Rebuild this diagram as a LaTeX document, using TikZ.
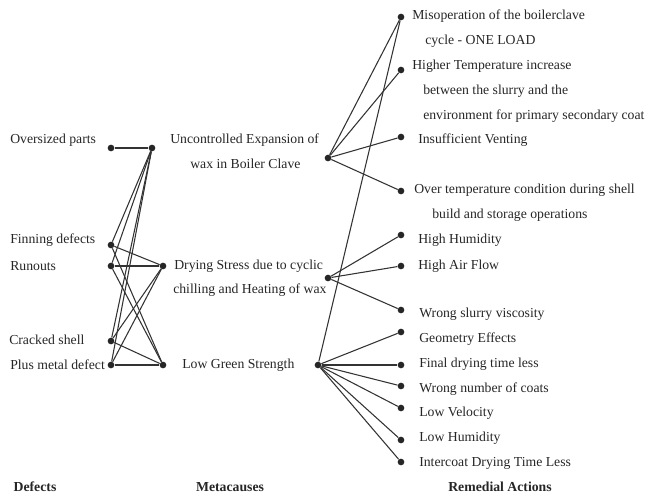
\documentclass[tikz,border=0pt]{standalone}
\usepackage{fontspec}
\setmainfont{Liberation Serif}

\begin{document}
\begin{tikzpicture}[x=0.75pt,y=-0.75pt,
        dot/.style={fill=black!85,circle,inner sep=0pt,minimum size=5pt},
        txt/.style={anchor=west,inner sep=0pt,text=black!85,font=\fontsize{10.3}{12}\selectfont},
        head/.style={anchor=center,inner sep=0pt,text=black!85,font=\fontsize{10.3}{12}\selectfont\bfseries},
        link/.style={line width=0.8pt,black!80}]
        \useasboundingbox (0,0) rectangle (649,493);

        % Defects
        \node[dot] (Def1) at (111,148) {};
        \node[dot] (Def2) at (111,245) {};
        \node[dot] (Def3) at (111,266) {};
        \node[dot] (Def4) at (111,341) {};
        \node[dot] (Def5) at (111,365) {};
        \node[txt] (Def1T) at (10,140) {Oversized parts};
        \node[txt] (Def2T) at (10,240) {Finning defects};
        \node[txt] (Def3T) at (10,266) {Runouts};
        \node[txt] (Def4T) at (9,340) {Cracked shell};
        \node[txt] (Def5T) at (10,365) {Plus metal defect};

        % Metacauses
        \node[dot] (Meta1L) at (152,148) {};
        \node[dot] (Meta2L) at (163,266) {};
        \node[dot] (Meta3L) at (163,365) {};
        \node[dot] (Meta1R) at (328,158) {};
        \node[dot] (Meta2R) at (328,278) {};
        \node[dot] (Meta3R) at (318,365) {};
        \node[txt] (Meta1T) at (170,140) {Uncontrolled Expansion of};
        \node[txt] (Meta1U) at (190,164) {wax in Boiler Clave};
        \node[txt] (Meta2T) at (174,266) {Drying Stress due to cyclic};
        \node[txt] (Meta2U) at (173,290) {chilling and Heating of wax};
        \node[txt] (Meta3T) at (182,365) {Low Green Strength};

        % Remedial actions
        \node[dot] (Act1) at (401,17) {};
        \node[dot] (Act2) at (401,70) {};
        \node[dot] (Act3) at (401,137) {};
        \node[dot] (Act4) at (401,191) {};
        \node[dot] (Act5) at (401,235) {};
        \node[dot] (Act6) at (401,266) {};
        \node[dot] (Act7) at (401,310) {};
        \node[dot] (Act8) at (401,332) {};
        \node[dot] (Act9) at (401,365) {};
        \node[dot] (Act10) at (401,386) {};
        \node[dot] (Act11) at (401,408) {};
        \node[dot] (Act12) at (401,440) {};
        \node[dot] (Act13) at (401,462) {};
        \node[txt] (Act1T) at (412,16) {Misoperation of the boilerclave};
        \node[txt] (Act1U) at (425,41) {cycle - ONE LOAD};
        \node[txt] (Act2T) at (412,66) {Higher Temperature increase};
        \node[txt] (Act2U) at (423,91) {between the slurry and the};
        \node[txt] (Act2V) at (423,116) {environment for primary secondary coat};
        \node[txt] (Act3T) at (418,140) {Insufficient Venting};
        \node[txt] (Act4T) at (414,190) {Over temperature condition during shell};
        \node[txt] (Act4U) at (432,215) {build and storage operations};
        \node[txt] (Act5T) at (418,240) {High Humidity};
        \node[txt] (Act6T) at (418,266) {High Air Flow};
        \node[txt] (Act7T) at (419,314) {Wrong slurry viscosity};
        \node[txt] (Act8T) at (419,339) {Geometry Effects};
        \node[txt] (Act9T) at (419,364) {Final drying time less};
        \node[txt] (Act10T) at (419,389) {Wrong number of coats};
        \node[txt] (Act11T) at (419,413) {Low Velocity};
        \node[txt] (Act12T) at (419,438) {Low Humidity};
        \node[txt] (Act13T) at (419,463) {Intercoat Drying Time Less};

        % Column heads
        \node[head] (HeadDef) at (35,487) {Defects};
        \node[head] (HeadMeta) at (230,487) {Metacauses};
        \node[head] (HeadAct) at (500,487) {Remedial Actions};

        % Defects to metacauses
        \draw[link] (Def1) -- (Meta1L);
        \draw[link] (Def2) -- (Meta1L);
        \draw[link] (Def3) -- (Meta1L);
        \draw[link] (Def4) -- (Meta1L);
        \draw[link] (Def5) -- (Meta1L);
        \draw[link] (Def2) -- (Meta2L);
        \draw[link] (Def3) -- (Meta2L);
        \draw[link] (Def4) -- (Meta2L);
        \draw[link] (Def5) -- (Meta2L);
        \draw[link] (Def2) -- (Meta3L);
        \draw[link] (Def3) -- (Meta3L);
        \draw[link] (Def4) -- (Meta3L);
        \draw[link] (Def5) -- (Meta3L);

        % Metacauses to remedial actions
        \draw[link] (Meta1R) -- (Act1);
        \draw[link] (Meta1R) -- (Act2);
        \draw[link] (Meta1R) -- (Act3);
        \draw[link] (Meta1R) -- (Act4);
        \draw[link] (Meta2R) -- (Act5);
        \draw[link] (Meta2R) -- (Act6);
        \draw[link] (Meta2R) -- (Act7);
        \draw[link] (Meta3R) -- (Act1);
        \draw[link] (Meta3R) -- (Act8);
        \draw[link] (Meta3R) -- (Act9);
        \draw[link] (Meta3R) -- (Act10);
        \draw[link] (Meta3R) -- (Act11);
        \draw[link] (Meta3R) -- (Act12);
        \draw[link] (Meta3R) -- (Act13);
    \end{tikzpicture}
\end{document}
